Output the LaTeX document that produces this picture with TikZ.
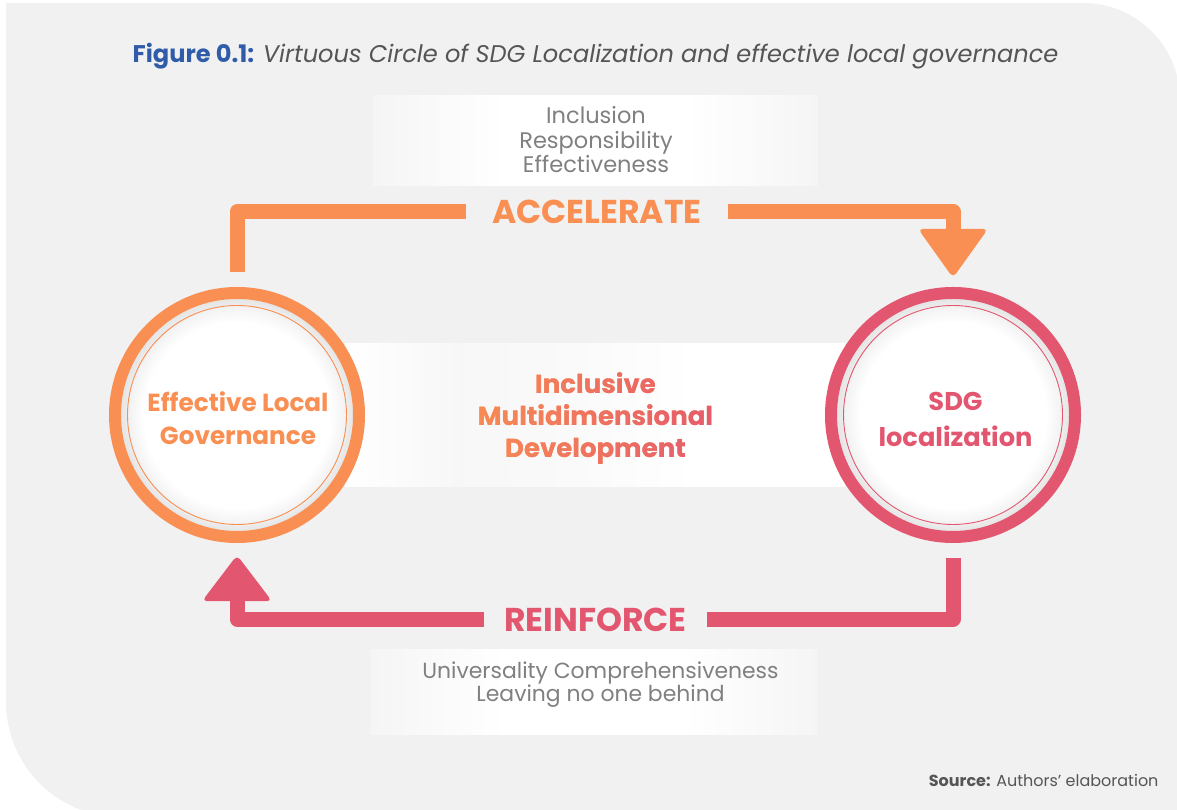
\documentclass[tikz,border=0pt]{standalone}
\usepackage{fontspec}
\setmainfont{Poppins}
\usetikzlibrary{calc}

\definecolor{panel}{HTML}{F1F1F1}
\definecolor{accorange}{HTML}{F98F52}
\definecolor{reinpink}{HTML}{E3566F}
\definecolor{figblue}{HTML}{2F5BA8}
\definecolor{softgray}{HTML}{808080}
\definecolor{captiongray}{HTML}{555555}
\definecolor{boxedge}{HTML}{F5F5F5}

% soft white boxes behind the value lists and the central band
\pgfdeclarehorizontalshading{boxfade}{100bp}{color(0bp)=(boxedge); color(25bp)=(boxedge); color(40bp)=(white); color(60bp)=(white); color(75bp)=(boxedge); color(100bp)=(boxedge)}
\pgfdeclarehorizontalshading{bandfade}{100bp}{color(0bp)=(white); color(25bp)=(white); color(36bp)=(black!3); color(48bp)=(black!2); color(60bp)=(white); color(100bp)=(white)}
% white disc with a faint rim
\pgfdeclareradialshading{innerglow}{\pgfpoint{0bp}{0bp}}{color(0bp)=(white); color(20bp)=(white); color(23.4bp)=(black!5); color(24bp)=(black!8); color(25bp)=(black!10); color(50bp)=(black!10)}

\tikzset{
  bar/.style={line width=15, line join=round},
  accbar/.style={bar, draw=accorange},
  reinbar/.style={bar, draw=reinpink},
  graytext/.style={anchor=base, text=softgray, font=\fontsize{22.5}{27}\selectfont},
  lowtext/.style={anchor=base, text=softgray, font=\fontsize{21.9}{26}\selectfont},
  midline/.style={anchor=base, font=\bfseries\fontsize{26}{31}\selectfont},
  circtext/.style={anchor=base, font=\bfseries\fontsize{24.7}{29}\selectfont},
  bigword/.style={anchor=base, inner sep=0, font=\bfseries\fontsize{33}{39}\selectfont},
  hub/.style={circle, minimum size=256, inner sep=0},
}

\begin{document}
\begin{tikzpicture}[x=1pt,y=1pt]
\useasboundingbox (0,0) rectangle (1177,810);
\fill[white] (0,0) rectangle (1177,810);
\fill[panel] (6,807) -- (1083,807) arc[start angle=90,end angle=0,radius=97]
  -- (1180,-7) -- (121,-7) arc[start angle=270,end angle=180,radius=115] -- cycle;

% caption
\node[anchor=base, font=\fontsize{24.1}{29}\selectfont] (title) at (595.5,747.7)
  {\textcolor{figblue}{\bfseries Figure 0.1:} \textcolor{captiongray}{\itshape Virtuous Circle of SDG Localization and effective local governance}};

% backgrounds
\shade[shading=boxfade] (373,624) rectangle (818,714);
\shade[shading=boxfade] (371,75) rectangle (817,160);
\shade[shading=bandfade] (345,323) rectangle (845,466);

% the two hubs
\node[hub] (lc) at (237,395) {};
\node[hub] (rc) at (953,395) {};
\foreach \n/\c in {lc/accorange, rc/reinpink}{
  \shade[shading=innerglow] (\n.center) circle[radius=116];
  \draw[\c, line width=12] (\n.center) circle[radius=122];
  \draw[\c, line width=0.9] (\n.center) circle[radius=109.5];
}
\node[circtext, text=accorange] (e1) at (238,398.3) {Effective Local};
\node[circtext, text=accorange] (e2) at (238,365) {Governance};
\node[circtext, text=reinpink, font=\bfseries\fontsize{25.7}{30}\selectfont] (s1) at (955.5,399) {SDG};
\node[circtext, text=reinpink, font=\bfseries\fontsize{25.7}{30}\selectfont] (s2) at (955.5,363.5) {localization};

% upper loop: accelerate
\node[bigword, text=accorange, minimum width=261] (acc) at (597,586) {ACCELERATE};
\draw[accbar] ([yshift=15]lc.north) |- ([yshift=0.5]acc.west);
\draw[accbar] ([yshift=0.5]acc.east) -| ([yshift=52]rc.north);
\fill[accorange, rounded corners=5] ([shift={(-35,58)}]rc.north) -- ([shift={(35,58)}]rc.north)
  -- ([yshift=9]rc.north) -- cycle;

% lower loop: reinforce
\node[bigword, text=reinpink, minimum width=222] (rei) at (595.5,178.3) {REINFORCE};
\draw[reinbar] ([yshift=-15]rc.south) |- ([yshift=1]rei.east);
\draw[reinbar] ([yshift=1]rei.west) -| ([yshift=-52]lc.south);
\fill[reinpink, rounded corners=5] ([shift={(-35,-58)}]lc.south) -- ([shift={(35,-58)}]lc.south)
  -- ([yshift=-12]lc.south) -- cycle;

% principles
\node[graytext] (p1) at (596,686.7) {Inclusion};
\node[graytext] (p2) at (596,661.7) {Responsibility};
\node[graytext] (p3) at (596,637.3) {Effectiveness};
\node[lowtext] (q1) at (600.5,131.7) {Universality Comprehensiveness};
\node[lowtext] (q2) at (600.5,108.3) {Leaving no one behind};

% central outcome, orange to pink
\node[midline, text=accorange] (m1) at (595.5,416.7) {Inclusive};
\node[midline, text=accorange] (m2) at (595.5,384.3) {Multidimensional};
\node[midline, text=accorange] (m3) at (595.5,352.3) {Development};
\foreach \i in {1,...,40}{
  \pgfmathsetmacro\xa{460+(\i-1)*7}
  \pgfmathtruncatemacro\p{round(100*\i/40)}
  \begin{scope}
    \clip (\xa,335) rectangle ({\xa+7.3},445);
    \node[midline, text=reinpink!\p!accorange] at (m1.base) {Inclusive};
    \node[midline, text=reinpink!\p!accorange] at (m2.base) {Multidimensional};
    \node[midline, text=reinpink!\p!accorange] at (m3.base) {Development};
  \end{scope}
}

% source line
\node[anchor=base east, font=\fontsize{16}{19}\selectfont, text=captiongray] (src) at (1162,23)
  {\textbf{Source:} Authors’ elaboration};
\end{tikzpicture}
\end{document}
